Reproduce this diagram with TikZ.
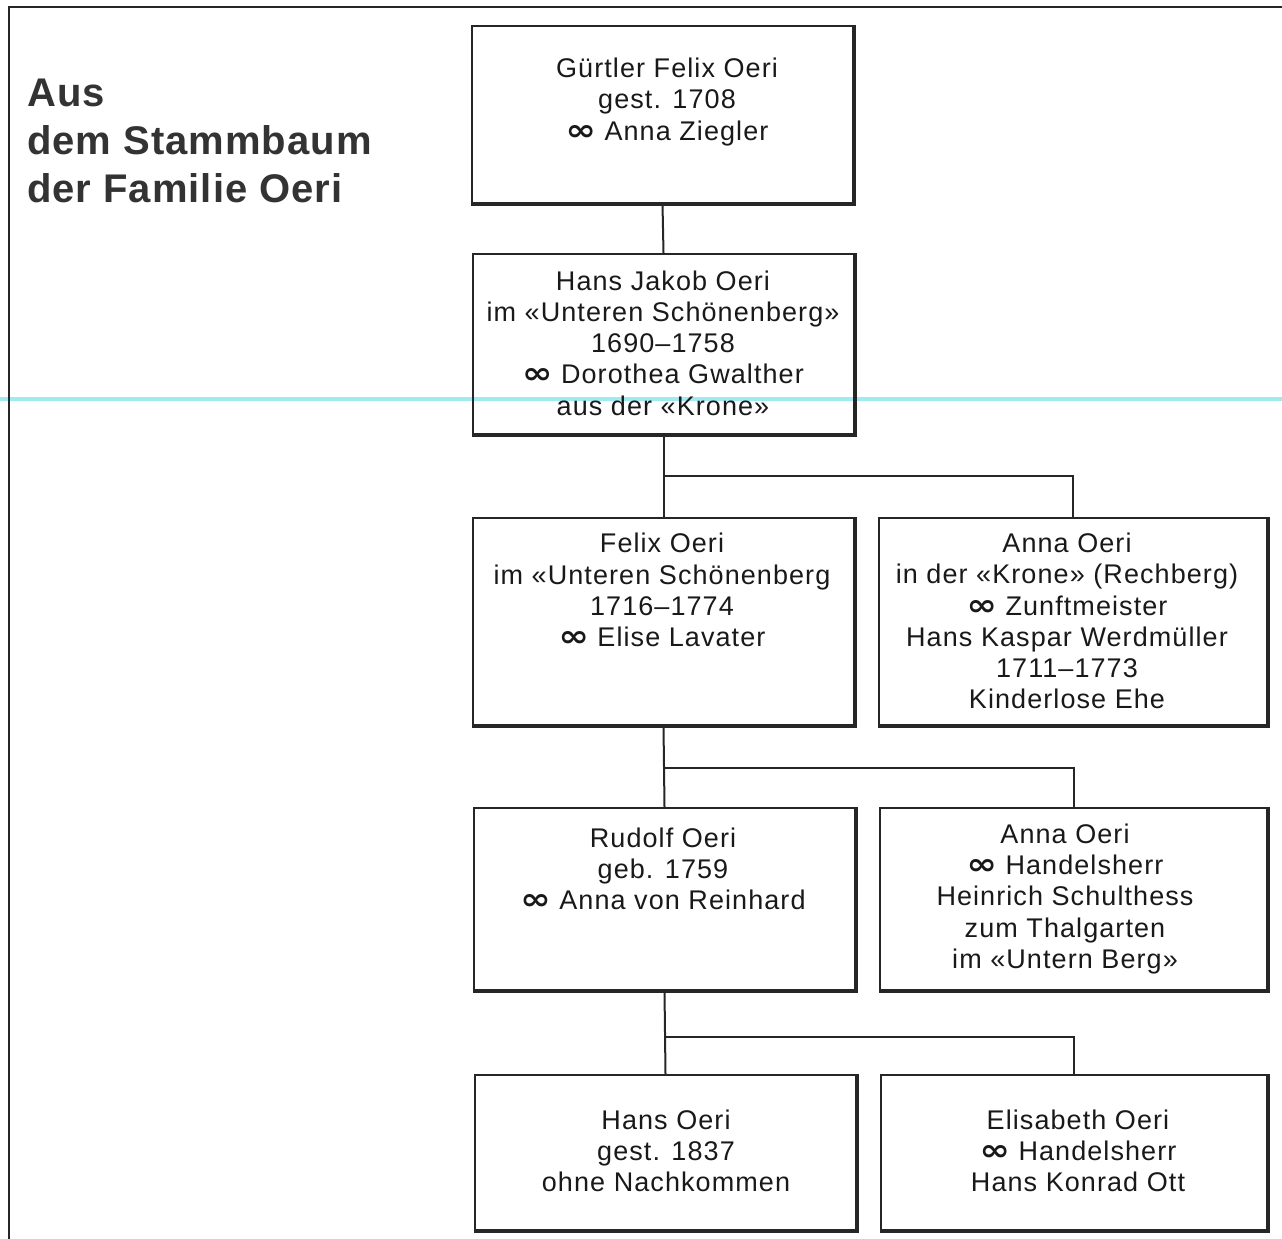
\documentclass[tikz,border=0pt]{standalone}
\usepackage{fontspec}
\setmainfont{Liberation Sans}
\newfontfamily\boxfont[LetterSpace=4]{Liberation Sans}
\newfontfamily\titlefont[LetterSpace=2.5]{Liberation Sans}
\newfontfamily\symfont{DejaVu Sans}
\newcommand\marr{\scalebox{1.35}[1.1]{\symfont\bfseries ∞}}
\begin{document}
\begin{tikzpicture}[x=1pt,y=-1pt,
  box/.style={draw=black!85, line width=2pt, inner sep=0pt},
  txt/.style={align=center, font=\boxfont\fontsize{27}{31.2}\selectfont, text=black!90, inner sep=0pt},
  link/.style={draw=black!85, line width=2pt},
  thick edge/.style={draw=black!85, line width=3.4pt}]
\useasboundingbox (0,0) rectangle (1282,1239);
% scan line
\draw[color={rgb,255:red,160;green,234;blue,244}, line width=4pt] (0,399) -- (1282,399);
% frame
\draw[black!85, line width=2pt] (1295,7) -- (9,7) -- (9,1250);
% title
\node[anchor=west, align=left, inner sep=0pt, text=black!80,
  font=\titlefont\bfseries\fontsize{40}{48}\selectfont] (title) at (27,141)
  {Aus\\dem Stammbaum\\der Familie Oeri};
% boxes
\node[box, minimum width=381pt, minimum height=177pt] (b1) at (662.5,114.5) {};
\node[box, minimum width=381pt, minimum height=180pt] (b2) at (663.5,344) {};
\node[box, minimum width=381pt, minimum height=207pt] (b3) at (663.5,621.5) {};
\node[box, minimum width=388pt, minimum height=207pt] (b4) at (1073,621.5) {};
\node[box, minimum width=381pt, minimum height=182pt] (b5) at (664.5,899) {};
\node[box, minimum width=387pt, minimum height=182pt] (b6) at (1073.5,899) {};
\node[box, minimum width=381pt, minimum height=155pt] (b7) at (665.5,1152.5) {};
\node[box, minimum width=386pt, minimum height=155pt] (b8) at (1074,1152.5) {};
\foreach \b in {b1,b2,b3,b4,b5,b6,b7,b8}
  \draw[thick edge] (\b.north east) -- (\b.south east) -- (\b.south west);
% texts
\node[txt] (t1) at (667,102) {Gürtler Felix Oeri\\gest. 1708\\\marr{} Anna Ziegler};
\node[txt] (t2) at (663,343) {Hans Jakob Oeri\\im «Unteren Schönenberg»\\1690–1758\\\marr{} Dorothea Gwalther\\aus der «Krone»};
\node[txt] (t3) at (662,590) {Felix Oeri\\im «Unteren Schönenberg\\1716–1774\\\marr{} Elise Lavater};
\node[txt] (t4) at (1067,621) {Anna Oeri\\in der «Krone» (Rechberg)\\\marr{} Zunftmeister\\Hans Kaspar Werdmüller\\1711–1773\\Kinderlose Ehe};
\node[txt] (t5) at (663,869) {Rudolf Oeri\\geb. 1759\\\marr{} Anna von Reinhard};
\node[txt] (t6) at (1065,899) {Anna Oeri\\\marr{} Handelsherr\\Heinrich Schulthess\\zum Thalgarten\\im «Untern Berg»};
\node[txt] (t7) at (666,1151) {Hans Oeri\\gest. 1837\\ohne Nachkommen};
\node[txt] (t8) at (1078,1151) {Elisabeth Oeri\\\marr{} Handelsherr\\Hans Konrad Ott};
% connectors
\coordinate (j1) at (0,476);
\coordinate (j2) at (0,768);
\coordinate (j3) at (0,1037);
\draw[link] (b1.south) -- (b2.north);
\draw[link] (b2.south) -- (b3.north);
\draw[link] (b2.south |- j1) -| (b4.north);
\draw[link] (b3.south) -- (b5.north);
\draw[link] (b3.south |- j2) -| (b6.north);
\draw[link] (b5.south) -- (b7.north);
\draw[link] (b5.south |- j3) -| (b8.north);
\end{tikzpicture}
\end{document}
